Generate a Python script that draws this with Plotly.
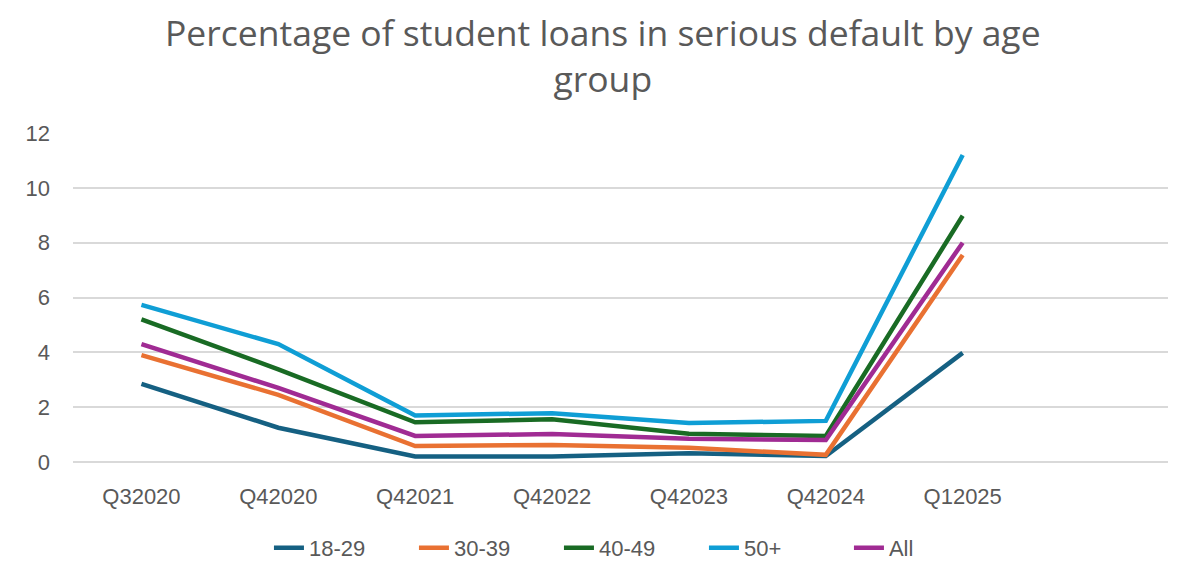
import plotly.graph_objects as go

# data
quarters = ["Q32020", "Q42020", "Q42021", "Q42022", "Q42023", "Q42024", "Q12025"]
age_18_29 = [2.85, 1.25, 0.2, 0.2, 0.32, 0.22, 3.98]
age_30_39 = [3.9, 2.45, 0.58, 0.62, 0.52, 0.26, 7.55]
age_40_49 = [5.2, 3.38, 1.45, 1.56, 1.03, 0.95, 8.98]
age_50_plus = [5.73, 4.3, 1.7, 1.78, 1.42, 1.5, 11.2]
age_all = [4.3, 2.7, 0.95, 1.02, 0.85, 0.8, 8.0]

series = [
    ("18-29", age_18_29, "#156082"),
    ("30-39", age_30_39, "#E97132"),
    ("40-49", age_40_49, "#196B24"),
    ("50+", age_50_plus, "#0F9ED5"),
    ("All", age_all, "#A02B93"),
]

GRID = "#D9D9D9"
TEXT = "#595959"

fig = go.Figure()
x_pos = list(range(len(quarters)))
for name, vals, color in series:
    fig.add_trace(go.Scatter(
        x=x_pos, y=vals, name=name, mode="lines",
        line=dict(color=color, width=4.5),
    ))

# title as a centred two-line annotation above the plot
fig.add_annotation(
    text="Percentage of student loans in serious default by age<br>group",
    xref="paper", yref="paper", x=0.484, y=1.2386,
    xanchor="center", yanchor="middle", showarrow=False,
    font=dict(family="Open Sans, sans-serif", size=35.5, color=TEXT),
)

# page body adds 8px, so margins are shifted by that amount
fig.update_layout(
    width=1193, height=576,
    paper_bgcolor="white", plot_bgcolor="white",
    margin=dict(l=65, r=33, t=125, b=122),
    font=dict(family="Liberation Sans, Arial, sans-serif", size=22, color=TEXT),
    showlegend=True,
    legend=dict(
        orientation="h", x=0.51, xanchor="center", y=-0.261, yanchor="middle",
        font=dict(size=22, color=TEXT), entrywidth=100, entrywidthmode="pixels",
        tracegroupgap=0,
    ),
)
fig.update_xaxes(
    range=[-0.5, 7.5], tickmode="array", tickvals=x_pos, ticktext=quarters,
    showgrid=False, zeroline=False, showline=False, ticks="",
    ticklabelstandoff=19, fixedrange=True,
)
fig.update_yaxes(
    range=[0, 12], dtick=2, showgrid=True, gridcolor=GRID, gridwidth=1.5,
    zeroline=True, zerolinecolor=GRID, zerolinewidth=1.5,
    showline=False, ticks="", ticklabelstandoff=22, fixedrange=True,
)

fig.write_html("out.html")
